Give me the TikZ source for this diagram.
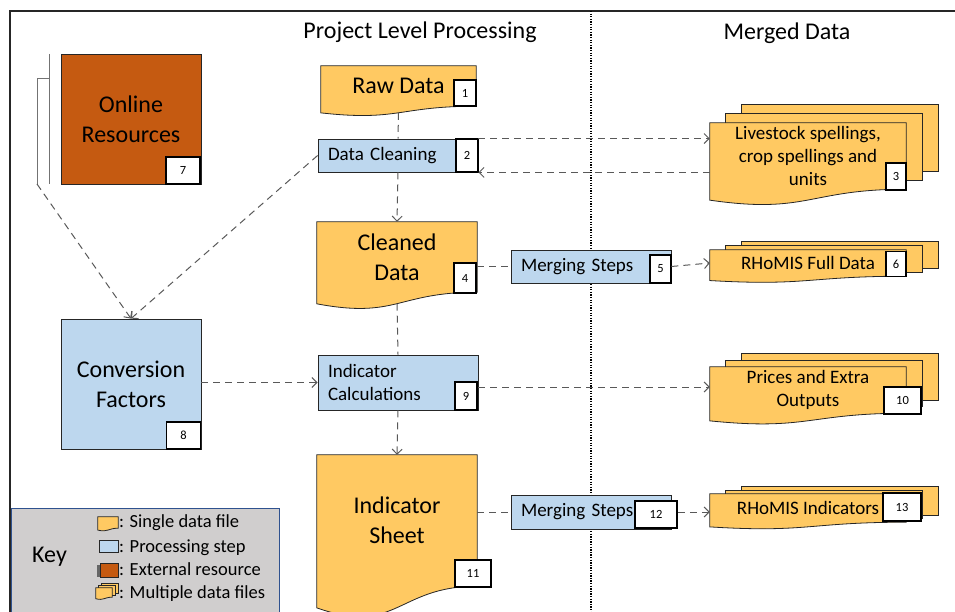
\documentclass[tikz,border=0pt]{standalone}
\usepackage{fontspec}
\setmainfont{Carlito}
\usetikzlibrary{calc,backgrounds,arrows.meta}
\definecolor{datacolor}{HTML}{FFC962}
\definecolor{proccolor}{HTML}{BDD7EE}
\definecolor{extcolor}{HTML}{C55A11}
\definecolor{keycolor}{HTML}{D0CECE}
\definecolor{keyborder}{HTML}{2F528F}
\definecolor{flowcolor}{HTML}{595959}
\newcommand\bigtext{\fontsize{24pt}{30pt}\selectfont}
\newcommand\midtext{\fontsize{19pt}{23pt}\selectfont}
\newcommand\keytext{\fontsize{18.5pt}{22pt}\selectfont}
\newcommand\numtext{\fontsize{12.5pt}{12.5pt}\selectfont}
\newcommand\docpath[1]{%
  \filldraw[docline] (#1.north west) -- (#1.north east) -- (#1.south east) .. controls (#1.south) and ($(#1.north)!1.38!(#1.south)$) .. ($(#1.north west)!1.165!(#1.south west)$) -- cycle;}
\newcommand\docsheets[3]{%
  \filldraw[docline] ($(#1.north west)+(2*#2,-2*#3)$) rectangle ($(#1.south east)+(2*#2,-2*#3)$);%
  \filldraw[docline] ($(#1.north west)+(#2,-#3)$) rectangle ($(#1.south east)+(#2,-#3)$);}
\tikzset{
  docnode/.style={rectangle, inner sep=0pt, align=center},
  docline/.style={draw=black!85, fill=datacolor, line width=0.8pt},
  procbox/.style={rectangle, draw=black!85, fill=proccolor, line width=0.8pt, inner sep=0pt, inner xsep=10pt, text width=140pt, align=left, font=\midtext},
  bigbox/.style={rectangle, draw=black!85, line width=0.8pt, minimum width=140pt, minimum height=130pt, align=center, font=\bigtext},
  numbox/.style={rectangle, draw=black, fill=white, line width=1.6pt, inner sep=0pt, font=\numtext},
  keyitem/.style={anchor=base west, inner sep=0pt, font=\keytext},
  flowline/.style={draw=flowcolor, line width=1pt, dash pattern=on 7pt off 5pt},
  flowarrow/.style={flowline, -{Straight Barb[length=5pt,width=10pt]}},
}
\begin{document}
\begin{tikzpicture}[x=1pt,y=-1pt]%
\useasboundingbox (0,0) rectangle (955,612);%
\draw[line width=1.4pt, black!85] (10,612) -- (10,11) -- (955,11);%
\draw[line width=1.3pt, dash pattern=on 1.3pt off 1.3pt] (591,11) -- (591,612);%
\node[anchor=base, font=\bigtext] (projtitle) at (420,39) {Project Level Processing};%
\node[anchor=base, font=\bigtext] (mergetitle) at (787,40) {Merged Data};%
%
\draw[black!55, line width=1pt] (49,54) -- (49,184);%
\draw[black!55, line width=1pt] (37,184) -- (37,79) -- (49,79);%
\coordinate (extfoot) at (37,184);%
\node[bigbox, fill=extcolor] (online) at (131,119) {Online\\Resources};%
\node[numbox, minimum width=34pt, minimum height=27pt] (n7) at (183,170.5) {7};%
\node[bigbox, fill=proccolor] (conv) at (131,384) {Conversion\\Factors};%
\node[numbox, minimum width=34pt, minimum height=27pt] (n8) at (183.5,435.5) {8};%
%
\node[docnode, font=\bigtext, minimum width=155pt, minimum height=40pt] (raw) at (398.5,86) {Raw Data};%
\node[numbox, minimum width=22pt, minimum height=26pt] (n1) at (465,93) {1};%
\node[procbox, minimum height=33pt] (clean) at (398,155.5) {Data Cleaning};%
\node[numbox, minimum width=22pt, minimum height=33pt] (n2) at (467,155.5) {2};%
\node[docnode, font=\bigtext, minimum width=160pt, minimum height=70pt] (clnd) at (397,257) {Cleaned\\Data};%
\node[numbox, minimum width=22pt, minimum height=30pt] (n4) at (465,278) {4};%
\node[procbox, minimum height=33pt] (merge1) at (591,266.5) {Merging Steps};%
\node[numbox, minimum width=21pt, minimum height=28pt] (n5) at (660.5,269) {5};%
\node[procbox, minimum height=55pt] (ind) at (398,382.5) {Indicator\\Calculations};%
\node[numbox, minimum width=22pt, minimum height=28pt] (n9) at (466,396) {9};%
\node[docnode, font=\bigtext, minimum width=160pt, minimum height=131pt] (sheet) at (397,520.5) {Indicator\\Sheet};%
\node[numbox, minimum width=36pt, minimum height=27pt] (n11) at (473,573.5) {11};%
\node[procbox, minimum height=34pt] (merge2) at (591,512) {Merging Steps};%
\node[numbox, minimum width=42pt, minimum height=27pt] (n12) at (656,514.5) {12};%
%
\node[docnode, font=\midtext, minimum width=196pt, minimum height=66pt] (live) at (808,156) {Livestock spellings,\\crop spellings and\\units};%
\node[numbox, minimum width=20pt, minimum height=27pt] (n3) at (896,176.5) {3};%
\node[docnode, font=\midtext, minimum width=196pt, minimum height=26pt] (full) at (808,263) {RHoMIS Full Data};%
\node[numbox, minimum width=20pt, minimum height=25pt] (n6) at (896,264) {6};%
\node[docnode, font=\midtext, minimum width=196pt, minimum height=46pt] (prices) at (808,390) {Prices and Extra\\Outputs};%
\node[numbox, minimum width=37pt, minimum height=27pt] (n10) at (902.5,400.5) {10};%
\node[docnode, font=\midtext, minimum width=196pt, minimum height=28pt] (indic) at (808,508) {RHoMIS Indicators};%
\node[numbox, minimum width=38pt, minimum height=28pt] (n13) at (902,507) {13};%
%
\node[anchor=base, font=\bigtext] (keytitle) at (49.5,562) {Key};%
\node[docnode, minimum width=20pt, minimum height=11pt] (keydoc) at (108,522.5) {};%
\node[rectangle, draw=black!85, fill=proccolor, line width=0.8pt, minimum width=19pt, minimum height=12pt] (keyproc) at (108.5,546.5) {};%
\node[rectangle, draw=black!85, fill=extcolor, line width=0.8pt, minimum width=18pt, minimum height=14pt] (keyext) at (109,570) {};%
\node[docnode, minimum width=16pt, minimum height=9pt] (keymulti) at (104,592.5) {};%
\node[keyitem] (keysingle) at (119,527) {: Single data file};%
\node[keyitem] (keystep) at (119,552) {: Processing step};%
\node[keyitem] (keyresource) at (119,575) {: External resource};%
\node[keyitem] (keyfiles) at (119,598) {: Multiple data files};%
%
\begin{scope}[on background layer]%
\filldraw[draw=keyborder, fill=keycolor, line width=0.8pt] (11,508) rectangle (279,630);%
\fill[black!60] ($(keyext.north west)+(-3,2)$) rectangle (keyext.south west);%
\docpath{raw}%
\docpath{clnd}%
\docpath{sheet}%
\docsheets{live}{16}{9}\docpath{live}%
\docsheets{full}{16}{4}\docpath{full}%
\docsheets{prices}{16}{6.5}\docpath{prices}%
\docsheets{indic}{16}{3.5}\docpath{indic}%
\docpath{keydoc}%
\docsheets{keymulti}{3}{2}\docpath{keymulti}%
\end{scope}%
%
\draw[flowline] ($(raw.north)!1.163!(raw.south)$) -- (clean.north);%
\draw[flowarrow] (clean.south) -- (clnd.north);%
\draw[flowarrow] (clean.west) -- (conv.north);%
\draw[flowarrow] (extfoot) -- (conv.north);%
\draw[flowarrow] (clean.north east) -- (clean.north east -| live.west);%
\draw[flowarrow] (clean.south east -| live.west) -- (clean.south east);%
\draw[flowline] (merge1.west -| clnd.east) -- (merge1.west);%
\draw[flowarrow] (merge1.east) -- (full.west);%
\draw[flowline] ($(clnd.north)!1.163!(clnd.south)$) -- (ind.north);%
\draw[flowarrow] (ind.west -| conv.east) -- (ind.west);%
\draw[flowarrow] ($(ind.east)+(0,4.5)$) -- ($(ind.east -| prices.west)+(0,4.5)$);%
\draw[flowarrow] (ind.south) -- (sheet.north);%
\draw[flowline] (merge2.west -| sheet.east) -- (merge2.west);%
\draw[flowarrow] (merge2.east -| n12.east) -- (merge2.east -| indic.west);%
\end{tikzpicture}
\end{document}
